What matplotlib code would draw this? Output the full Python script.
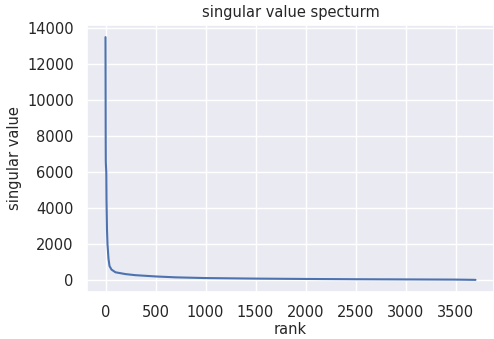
import matplotlib
matplotlib.use("Agg")
import matplotlib.pyplot as plt
import seaborn as sns

# singular values (rank -> value)
rank = [0, 1, 2, 3, 5, 8, 10, 15, 20, 30, 40, 60, 100, 200, 300, 500,
        700, 1000, 1500, 2000, 2500, 3000, 3500, 3700]
singular_values = [13500, 11000, 8000, 6600, 6300, 6000, 4500, 2800, 2000,
                   1200, 800, 600, 450, 350, 290, 220, 170, 130, 100, 80,
                   65, 55, 45, 30]

sns.set_theme()

fig = plt.figure(figsize=(4.94, 3.39), dpi=100)
ax = fig.add_axes([87 / 494, 1 - 292 / 339, 407 / 494, 267 / 339])
ax.plot(rank, singular_values)
ax.set_title("singular value specturm", fontsize=10.5)
ax.set_xlabel("rank", fontsize=10.5, labelpad=1)
ax.set_ylabel("singular value", fontsize=10.5)
ax.tick_params(labelsize=10.5)

fig.savefig("out.png", dpi=100)
